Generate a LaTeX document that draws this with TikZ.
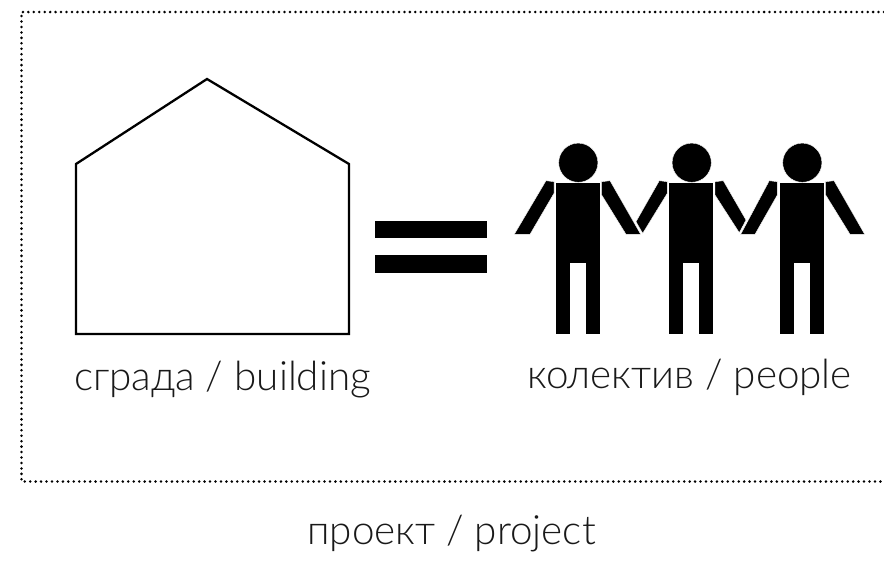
\documentclass[tikz,border=0pt]{standalone}
\usepackage{fontspec}
\setmainfont{Lato Light}
\begin{document}
\begin{tikzpicture}[x=1pt,y=-1pt,
  lbl/.style={inner sep=0pt,anchor=base,font=\fontsize{40.4}{44}\selectfont,text=black!90},
  fig/.style={fill=black,draw=white,line width=0.4pt,line join=miter},
  houseline/.style={draw=black,line width=2.3pt,line join=miter},
  bar/.style={fill=black,draw=none},
  frame/.style={draw=black,line width=2.8pt,line cap=round,dash pattern=on 0pt off 5.45pt}]
\useasboundingbox (0,0) rectangle (884,563);
\draw[frame] (884,12) -- (21.5,12) -- (21.5,481.5) -- (884,481.5);
\draw[houseline] (76,164) -- (207,79) -- (349,164) -- (349,334) -- (76,334) -- cycle;
\fill[bar] (375,221) rectangle (487,238);
\fill[bar] (375,255) rectangle (487,273);
% figure 1
\draw[fig] (555,182.3) -- (600,182.3) -- (600,334) -- (585,334) -- (585,263.3) -- (570,263.3) -- (570,334) -- (555,334) -- cycle;
\draw[fig] (578.3,162.7) circle (19.6);
\draw[fig] (546,180.7) -- (554,181.7) -- (554,193.3) -- (530,234.3) -- (514.3,234.3) -- cycle;
\draw[fig] (601.7,181.7) -- (610,180.7) -- (640.7,234.3) -- (626,234.3) -- (601.7,195) -- cycle;
% figure 2
\draw[fig] (668.3,182.3) -- (713.3,182.3) -- (713.3,334) -- (698.3,334) -- (698.3,263.3) -- (683.3,263.3) -- (683.3,334) -- (668.3,334) -- cycle;
\draw[fig] (691.7,162.7) circle (19.6);
\draw[fig] (659.3,180.7) -- (667.3,181.7) -- (667.3,193.3) -- (642.7,233.3) -- (636,221.7) -- cycle;
\draw[fig] (715,181.7) -- (723.3,180.7) -- (746,220) -- (739.3,232.7) -- (715,195) -- cycle;
% figure 3
\draw[fig] (779,182.3) -- (824,182.3) -- (824,334) -- (809,334) -- (809,263.3) -- (794,263.3) -- (794,334) -- (779,334) -- cycle;
\draw[fig] (802.3,162.7) circle (19.6);
\draw[fig] (769.3,180.7) -- (777.3,181.7) -- (777.3,195) -- (755,234.3) -- (740.7,234.3) -- cycle;
\draw[fig] (825.7,181.7) -- (834,180.7) -- (864.7,234.3) -- (850,234.3) -- (825.7,195) -- cycle;
\node[lbl] (building) at (222.5,390) {сграда / building};
\node[lbl] (people) at (689.5,388.5) {колектив / people};
\node[lbl] (project) at (451.5,544) {проект / project};
\end{tikzpicture}
\end{document}
